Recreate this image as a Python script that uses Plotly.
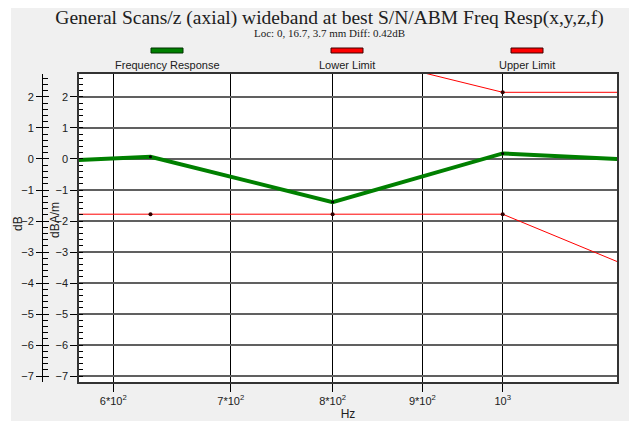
import plotly.graph_objects as go

# ---- data ----
freqs = [500, 630, 800, 1000, 1250]
response = [-0.18, 0.07, -1.39, 0.18, -0.09]
lower_limit = [-1.78, -1.78, -1.78, -1.78, -4.05]
upper_limit = [3.5, 3.5, 3.5, 2.15, 2.15]

x_tickvals = [600, 700, 800, 900, 1000]
x_ticktext = ["6*10<sup>2</sup>", "7*10<sup>2</sup>", "8*10<sup>2</sup>", "9*10<sup>2</sup>", "10<sup>3</sup>"]

title_text = "General Scans/z (axial) wideband at best S/N/ABM Freq Resp(x,y,z,f)"
subtitle_text = "Loc: 0, 16.7, 3.7 mm Diff: 0.42dB"
legend_names = ["Frequency Response", "Lower Limit", "Upper Limit"]

# the page body has an 8px margin; the figure is sized to fill the rest of the window
OFF = 8
W, H = 637 - OFF, 421 - OFF
ML, MR, MT, MB = 42 - OFF, 20, 74 - OFF, 39
PW = W - ML - MR
PH = H - MT - MB


def px(X):  # X in window pixels
    return (X - 42) / PW


def py(Y):  # Y in window pixels
    return (382 - Y) / PH


sans = "Arial, Liberation Sans, sans-serif"
serif = "Times New Roman, Liberation Serif, serif"

fig = go.Figure()
fig.add_trace(go.Scatter(x=freqs, y=response, mode="lines+markers", name=legend_names[0],
                         line=dict(color="#008000", width=4),
                         marker=dict(color="black", size=3)))
fig.add_trace(go.Scatter(x=freqs, y=lower_limit, mode="lines+markers", name=legend_names[1],
                         line=dict(color="#ff0000", width=1),
                         marker=dict(color="#300000", size=4)))
fig.add_trace(go.Scatter(x=freqs, y=upper_limit, mode="lines+markers", name=legend_names[2],
                         line=dict(color="#ff0000", width=1),
                         marker=dict(color="#300000", size=4)))

yrange = [-7.19, 2.74]

fig.update_layout(
    width=W, height=H,
    margin=dict(l=ML, r=MR, t=MT, b=MB, autoexpand=False),
    paper_bgcolor="#f0f0f0",
    plot_bgcolor="white",
    showlegend=False,
    font=dict(family=sans, size=11, color="#202020"),
    title=dict(text=title_text, x=0.5, xref="paper", xanchor="center",
               y=1 - (17 - OFF) / H, yref="container", yanchor="middle", automargin=False,
               font=dict(family=serif, size=19.5, color="#202020")),
    xaxis=dict(type="log", range=[2.75861, 3.06511], domain=[px(79), 1], automargin=False,
               tickvals=x_tickvals, ticktext=x_ticktext,
               tickfont=dict(size=11, family=sans, color="#202020"),
               showgrid=True, gridcolor="black", gridwidth=1,
               ticks="outside", ticklen=8, tickcolor="black",
               showline=True, mirror=True, linecolor="#333333", linewidth=1.5,
               title=dict(text="Hz", font=dict(size=12, family=sans), standoff=2),
               zeroline=False),
    yaxis=dict(range=yrange, dtick=1, tick0=0, automargin=False,
               showgrid=True, gridcolor="#606060", gridwidth=1.5, zeroline=False,
               ticks="outside", ticklen=7, tickcolor="black",
               tickfont=dict(size=11, family=sans, color="#202020"),
               minor=dict(ticks="inside", dtick=0.2, ticklen=4, tickcolor="black", showgrid=False),
               showline=True, mirror=True, linecolor="#333333", linewidth=1.5),
    yaxis2=dict(range=yrange, dtick=1, tick0=0, overlaying="y", anchor="free", position=0, side="left",
                automargin=False, showgrid=False, zeroline=False,
                ticks="outside", ticklen=6, tickcolor="black",
                tickfont=dict(size=11, family=sans, color="#202020"),
                minor=dict(ticks="inside", dtick=0.2, ticklen=5, tickcolor="black", showgrid=False),
                showline=True, linecolor="black", linewidth=1),
    yaxis3=dict(range=yrange, dtick=1, tick0=0, overlaying="y", anchor="free", position=0, side="left",
                automargin=False, showgrid=False, zeroline=False, showticklabels=False,
                ticks="inside", ticklen=6, tickcolor="black", showline=False),
)

# invisible traces to bind overlay axes
fig.add_trace(go.Scatter(x=[freqs[0]], y=[response[0]], yaxis="y2", mode="markers",
                         marker=dict(opacity=0), hoverinfo="skip", showlegend=False))
fig.add_trace(go.Scatter(x=[freqs[0]], y=[response[0]], yaxis="y3", mode="markers",
                         marker=dict(opacity=0), hoverinfo="skip", showlegend=False))

# y-axis titles
fig.add_annotation(text="dB", xref="paper", yref="paper", x=px(18), y=py(223), textangle=-90,
                   showarrow=False, font=dict(family=sans, size=12, color="#202020"),
                   xanchor="center", yanchor="middle")
fig.add_annotation(text="dBA/m", xref="paper", yref="paper", x=px(55), y=py(220), textangle=-90,
                   showarrow=False, font=dict(family=sans, size=12, color="#202020"),
                   xanchor="center", yanchor="middle")

# subtitle
fig.add_annotation(text=subtitle_text, xref="paper", yref="paper", x=0.5, y=py(33),
                   showarrow=False, font=dict(family=serif, size=11, color="#202020"),
                   xanchor="center", yanchor="middle")

# legend (swatch above label)
leg_x = [167, 347, 527]
leg_fill = ["#008000", "#ff0000", "#ff0000"]
leg_edge = ["#003000", "#400000", "#400000"]
for name, cx, fc, ec in zip(legend_names, leg_x, leg_fill, leg_edge):
    fig.add_shape(type="rect", xref="paper", yref="paper",
                  x0=px(cx - 16), x1=px(cx + 16), y0=py(53), y1=py(48),
                  fillcolor=fc, line=dict(color=ec, width=1))
    fig.add_annotation(text=name, xref="paper", yref="paper", x=px(cx), y=py(65),
                       showarrow=False, font=dict(family=sans, size=11, color="#202020"),
                       xanchor="center", yanchor="middle")

# white strip at the left edge of the picture
fig.add_shape(type="rect", xref="paper", yref="paper", x0=px(OFF - 2), x1=px(11), y0=py(H + OFF + 5), y1=py(OFF - 2),
              fillcolor="white", line=dict(width=0), layer="below")

fig.write_html("out.html")
